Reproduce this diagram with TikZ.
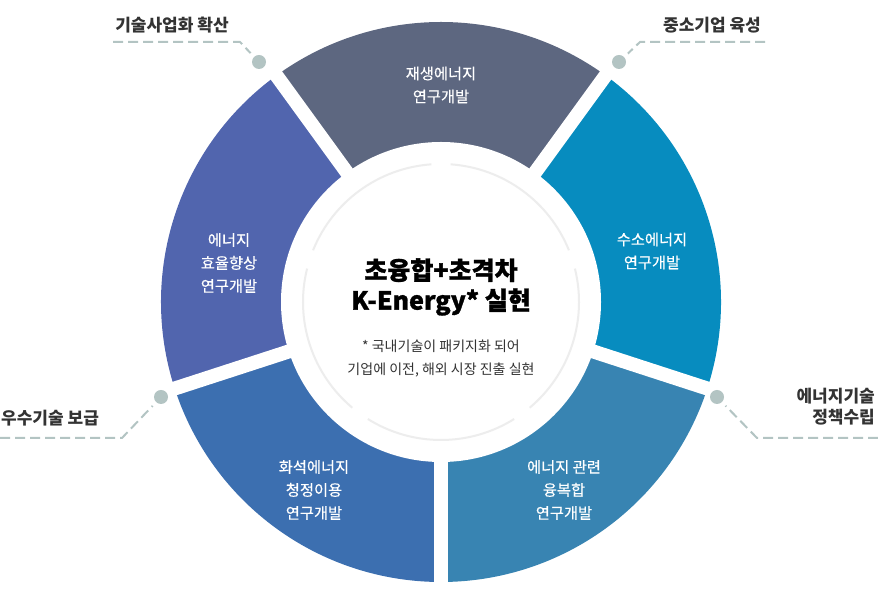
\documentclass[tikz,border=0pt]{standalone}
\usepackage{fontspec}
\setmainfont{Noto Sans CJK KR}
\newfontfamily\medfont{Noto Sans CJK KR}[FakeBold=0.5]
\newfontfamily\heavyfont{Noto Sans CJK KR}[BoldFeatures={FakeBold=1.2}]

\definecolor{segtop}{HTML}{5D6780}
\definecolor{segright}{HTML}{078CBF}
\definecolor{segbr}{HTML}{3884B2}
\definecolor{segbl}{HTML}{3C6FB0}
\definecolor{segleft}{HTML}{5165AE}
\definecolor{ringgray}{HTML}{EDEDED}
\definecolor{dotgray}{HTML}{B3C4C3}
\definecolor{outgray}{HTML}{333333}

\tikzset{
  seglabel/.style={text=white, align=center, inner sep=0pt, font=\fontsize{15.3}{23}\medfont},
  outlabel/.style={text=outgray, inner sep=0pt, font=\fontsize{17}{21}\selectfont\bfseries},
  dashline/.style={draw=dotgray, line width=2pt, dash pattern=on 10pt off 5pt},
  dotmark/.style={circle, fill=dotgray, minimum size=14pt, inner sep=0pt},
}

\begin{document}
\begin{tikzpicture}[x=1pt,y=1pt]
    \useasboundingbox (0,0) rectangle (878,596);
    \coordinate (C) at (441,294);

    % 五个扇形
    \fill[segtop]   (C) -- ++(54:280)  arc[start angle=54,  end angle=126, radius=280] -- cycle;
    \fill[segleft]  (C) -- ++(126:280) arc[start angle=126, end angle=198, radius=280] -- cycle;
    \fill[segbl]    (C) -- ++(198:280) arc[start angle=198, end angle=270, radius=280] -- cycle;
    \fill[segbr]    (C) -- ++(270:280) arc[start angle=270, end angle=342, radius=280] -- cycle;
    \fill[segright] (C) -- ++(-18:280) arc[start angle=-18, end angle=54,  radius=280] -- cycle;

    % 中间白圆和间隔
    \fill[white] (C) circle (160);
    \foreach \a in {54,126,198,270,342}
      \draw[white, line width=14pt] (C) -- ++(\a:290);

    % 灰色内环
    \foreach \a in {94,166,238,310,382}
      \draw[ringgray, line width=2pt] (C) ++(\a:138) arc[start angle=\a, delta angle=64, radius=138];

    % 扇形文字
    \node[seglabel] (tTop)   at (441,511) {재생에너지\\연구개발};
    \node[seglabel] (tRight) at (652,345) {수소에너지\\연구개발};
    \node[seglabel] (tLeft)  at (229,333) {에너지\\효율향상\\연구개발};
    \node[seglabel] (tBL)    at (314,106) {화석에너지\\청정이용\\연구개발};
    \node[seglabel] (tBR)    at (564,106) {에너지 관련\\융복합\\연구개발};

    % 中间文字
    \node[align=center, inner sep=0pt, text=black, font=\fontsize{25}{30}\heavyfont\bfseries]
      (title) at (441,309) {초융합+초격차\\K-Energy* 실현};
    \node[align=center, inner sep=0pt, text=outgray, font=\fontsize{14}{23}\selectfont]
      (note) at (441,237) {* 국내기술이 패키지화 되어\\기업에 이전, 해외 시장 진출 실현};

    % 外侧圆点
    \node[dotmark] (dTL) at (259,534) {};
    \node[dotmark] (dTR) at (619,534) {};
    \node[dotmark] (dBL) at (161,199) {};
    \node[dotmark] (dBR) at (717,199) {};

    % 外侧文字
    \node[outlabel] (lTL) at (172,571) {기술사업화 확산};
    \node[outlabel] (lTR) at (712,571) {중소기업 육성};
    \node[outlabel, anchor=west] (lBL) at (1,178) {우수기술 보급};
    \node[outlabel, anchor=east, align=right] (lBR) at (875,189) {에너지기술\\정책수립};

    % 虚线
    \coordinate (eTL) at (113,554);
    \coordinate (bTL) at (240,554);
    \coordinate (eTR) at (765,554);
    \coordinate (bTR) at (640,554);
    \coordinate (eBL) at (0,158);
    \coordinate (bBL) at (122,158);
    \coordinate (eBR) at (878,158);
    \coordinate (bBR) at (757,158);
    \draw[dashline, shorten >=5pt] (eTL) -- (bTL) -- (dTL);
    \draw[dashline, shorten >=5pt] (eTR) -- (bTR) -- (dTR);
    \draw[dashline, shorten >=5pt] (eBL) -- (bBL) -- (dBL);
    \draw[dashline, shorten >=5pt] (eBR) -- (bBR) -- (dBR);

  \end{tikzpicture}
\end{document}
